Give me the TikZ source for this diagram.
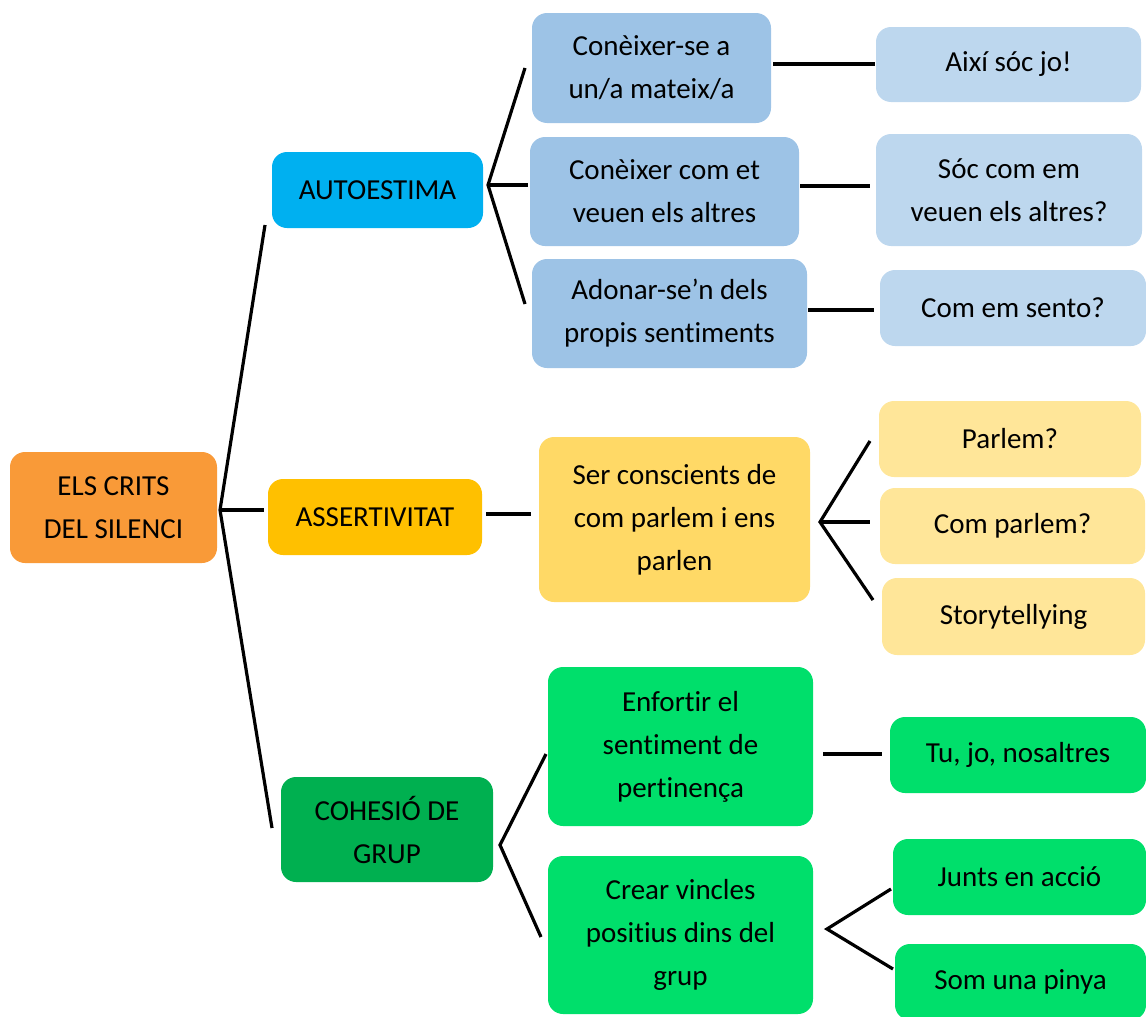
\documentclass[tikz,border=0pt]{standalone}
\usepackage{fontspec}
\setmainfont{Carlito}[Ligatures=CommonOff]
\usepackage{xcolor}
\usepackage{tikz}
\usetikzlibrary{positioning}
\usetikzlibrary{calc}

\definecolor{rootOrange}{HTML}{F99A38}
\definecolor{autoBlue}{HTML}{00B0F0}
\definecolor{assGold}{HTML}{FFC000}
\definecolor{cohGreen}{HTML}{00B050}
\definecolor{blueMid}{HTML}{9DC3E6}
\definecolor{blueLight}{HTML}{BDD7EE}
\definecolor{yelMid}{HTML}{FFD966}
\definecolor{yelLight}{HTML}{FFE699}
\definecolor{greenLight}{HTML}{00DF6B}

\begin{document}
\begin{tikzpicture}
  [
    x=1pt, y=-1pt,
    box/.style={
       rounded corners=15pt,
       inner sep=0pt,
       align=center,
       font=\fontsize{29}{43}\selectfont
    },
    ln/.style={
       draw=black,
       line width=3.2pt
    }
  ]
  \useasboundingbox (0,0) rectangle (1146,1017);

  % level 0 and 1
  \node (root)   at ( 113.5, 507.5) [box, fill=rootOrange, minimum width=207pt, minimum height=111pt] {ELS CRITS\\DEL SILENCI};
  \node (auto)   at ( 377.5, 190.0) [box, fill=autoBlue,   minimum width=211pt, minimum height=76pt]  {AUTOESTIMA};
  \node (assert) at ( 375.0, 517.0) [box, fill=assGold,    minimum width=214pt, minimum height=76pt]  {ASSERTIVITAT};
  \node (coh)    at ( 387.0, 829.5) [box, fill=cohGreen,   minimum width=212pt, minimum height=105pt] {COHESIÓ DE\\GRUP};

  % level 2
  \node (c1)    at ( 651.5,  68.0) [box, fill=blueMid,    minimum width=239pt, minimum height=110pt] {Conèixer-se a\\un/a mateix/a};
  \node (c2)    at ( 664.5, 191.5) [box, fill=blueMid,    minimum width=269pt, minimum height=109pt] {Conèixer com et\\veuen els altres};
  \node (c3)    at ( 669.5, 313.5) [box, fill=blueMid,    minimum width=275pt, minimum height=109pt] {Adonar-se’n dels\\propis sentiments};
  \node (ser)   at ( 674.5, 519.5) [box, fill=yelMid,     minimum width=271pt, minimum height=165pt] {Ser conscients de\\com parlem i ens\\parlen};
  \node (enf)   at ( 680.5, 746.5) [box, fill=greenLight, minimum width=265pt, minimum height=159pt] {Enfortir el\\sentiment de\\pertinença};
  \node (crear) at ( 680.5, 935.0) [box, fill=greenLight, minimum width=265pt, minimum height=158pt] {Crear vincles\\positius dins del\\grup};

  % level 3
  \node (a1)    at (1008.5,  64.5) [box, fill=blueLight,  minimum width=265pt, minimum height=75pt]  {Així sóc jo!};
  \node (s2)    at (1009.0, 190.0) [box, fill=blueLight,  minimum width=266pt, minimum height=112pt] {Sóc com em\\veuen els altres?};
  \node (s3)    at (1013.0, 308.0) [box, fill=blueLight,  minimum width=266pt, minimum height=76pt]  {Com em sento?};
  \node (p1)    at (1010.0, 439.0) [box, fill=yelLight,   minimum width=262pt, minimum height=76pt]  {Parlem?};
  \node (p2)    at (1012.5, 526.0) [box, fill=yelLight,   minimum width=265pt, minimum height=76pt]  {Com parlem?};
  \node (p3)    at (1013.5, 616.5) [box, fill=yelLight,   minimum width=263pt, minimum height=77pt]  {Storytellying};
  \node (tu)    at (1018.0, 755.0) [box, fill=greenLight, minimum width=256pt, minimum height=76pt]  {Tu, jo, nosaltres};
  \node (junts) at (1019.5, 877.0) [box, fill=greenLight, minimum width=253pt, minimum height=76pt]  {Junts en acció};
  \node (pinya) at (1020.5, 982.0) [box, fill=greenLight, minimum width=251pt, minimum height=76pt]  {Som una pinya};

  % fork points and loose ends
  \coordinate (vRoot)  at (220, 510);
  \coordinate (eAuto)  at (265, 225);
  \coordinate (eAss)   at (264, 510);
  \coordinate (eCoh)   at (272, 828);
  \coordinate (vAuto)  at (488, 185);
  \coordinate (eC1)    at (525,  68);
  \coordinate (eC2)    at (528, 185);
  \coordinate (eC3)    at (525, 304);
  \coordinate (vSer)   at (820, 522);
  \coordinate (eP1)    at (870, 441);
  \coordinate (eP2)    at (870, 522);
  \coordinate (eP3)    at (873, 600);
  \coordinate (vCoh)   at (500, 845);
  \coordinate (eEnf)   at (546, 754);
  \coordinate (eCrear) at (541, 937);
  \coordinate (vCrear) at (827, 929);
  \coordinate (eJunts) at (891, 889);
  \coordinate (ePinya) at (893, 969);

  \draw [ln] (eAuto) -- (vRoot) -- (eCoh);
  \draw [ln] (vRoot) -- (eAss);
  \draw [ln] (eC1) -- (vAuto) -- (eC3);
  \draw [ln] (vAuto) -- (eC2);
  \draw [ln] (eP1) -- (vSer) -- (eP3);
  \draw [ln] (vSer) -- (eP2);
  \draw [ln] (eEnf) -- (vCoh) -- (eCrear);
  \draw [ln] (eJunts) -- (vCrear) -- (ePinya);

  % straight links
  \coordinate (hA) at (0,  64);
  \coordinate (hS) at (0, 186);
  \coordinate (hC) at (0, 310);
  \coordinate (hP) at (0, 514);
  \coordinate (hT) at (0, 754);
  \draw [ln, shorten <=2pt,  shorten >=1pt] (c1.east |- hA) -- (a1.west |- hA);
  \draw [ln, shorten <=1pt,  shorten >=6pt] (c2.east |- hS) -- (s2.west |- hS);
  \draw [ln, shorten <=1pt,  shorten >=6pt] (c3.east |- hC) -- (s3.west |- hC);
  \draw [ln, shorten <=4pt,  shorten >=8pt] (assert.east |- hP) -- (ser.west |- hP);
  \draw [ln, shorten <=10pt, shorten >=8pt] (enf.east |- hT) -- (tu.west |- hT);
\end{tikzpicture}
\end{document}
